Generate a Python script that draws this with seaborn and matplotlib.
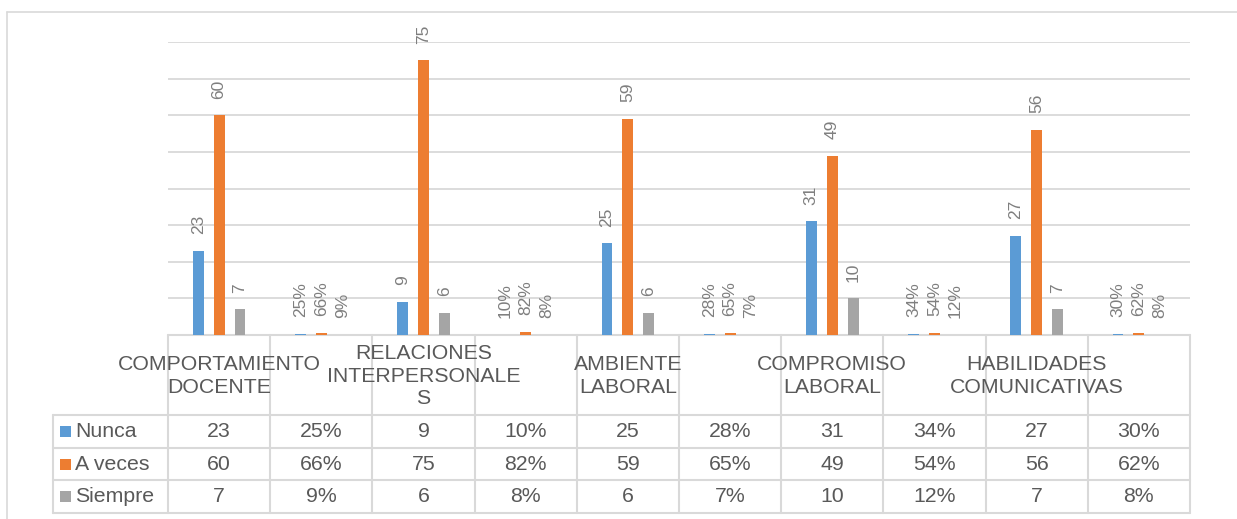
import numpy as np
import pandas as pd
import seaborn as sns
import matplotlib.pyplot as plt
from matplotlib.patches import Rectangle
from matplotlib.lines import Line2D

# --- data -------------------------------------------------------------
categories = [
    "COMPORTAMIENTO\nDOCENTE", "",
    "RELACIONES\nINTERPERSONALE\nS", "",
    "AMBIENTE\nLABORAL", "",
    "COMPROMISO\nLABORAL", "",
    "HABILIDADES\nCOMUNICATIVAS", "",
]
series = ["Nunca", "A veces", "Siempre"]
nunca = [23, 0.25, 9, 0.10, 25, 0.28, 31, 0.34, 27, 0.30]
a_veces = [60, 0.66, 75, 0.82, 59, 0.65, 49, 0.54, 56, 0.62]
siempre = [7, 0.09, 6, 0.08, 6, 0.07, 10, 0.12, 7, 0.08]
is_share = [False, True] * 5          # every second column holds shares
colors = ["#5B9BD5", "#ED7D31", "#A5A5A5"]

values = [nunca, a_veces, siempre]


def fmt(v, share):
    return f"{round(v * 100):d}%" if share else f"{v:g}"


# --- style ------------------------------------------------------------
sns.set_theme(style="white")
plt.rcParams["font.family"] = ["Liberation Sans", "DejaVu Sans"]
TEXT = "#595959"
LABEL = "#7F7F7F"
LINE = "#D9D9D9"

W, H = 1237, 519
fig = plt.figure(figsize=(W / 100, H / 100), dpi=100)
px_l, px_r, px_t, px_b = 168, 1190, 42, 335
ax = fig.add_axes([px_l / W, 1 - px_b / H, (px_r - px_l) / W, (px_b - px_t) / H])
aw, ah = px_r - px_l, px_b - px_t

df = pd.DataFrame({
    "col": np.tile(np.arange(len(categories)), len(series)),
    "serie": np.repeat(series, len(categories)),
    "valor": nunca + a_veces + siempre,
})

sns.barplot(data=df, x="col", y="valor", hue="serie", hue_order=series,
            palette=colors, saturation=1, width=0.615, gap=0.48,
            errorbar=None, linewidth=0, legend=False, ax=ax, zorder=3)

# value labels above each bar
for cont, vals in zip(ax.containers, values):
    labels = [fmt(v, s) for v, s in zip(vals, is_share)]
    ax.bar_label(cont, labels=labels, rotation=90, padding=12,
                 color=LABEL, fontsize=12.5)

ax.set_xlim(-0.5, len(categories) - 0.5)
ax.set_ylim(0, 80)
ax.set_yticks(np.arange(10, 81, 10))
ax.yaxis.grid(True, color=LINE, linewidth=1.3)
ax.set_axisbelow(True)
ax.tick_params(left=False, bottom=False, labelleft=False, labelbottom=False)
ax.set_xlabel("")
ax.set_ylabel("")
for sp in ax.spines.values():
    sp.set_visible(False)


# --- data table under the axis ---------------------------------------
def ax_x(px):
    return (px - px_l) / aw


def ax_y(py):
    return (px_b - py) / ah


def hline(py, x0, x1):
    ax.add_line(Line2D([ax_x(x0), ax_x(x1)], [ax_y(py), ax_y(py)],
                       transform=ax.transAxes, color=LINE, linewidth=1.5,
                       clip_on=False, zorder=1))


def vline(px, y0, y1):
    ax.add_line(Line2D([ax_x(px), ax_x(px)], [ax_y(y0), ax_y(y1)],
                       transform=ax.transAxes, color=LINE, linewidth=1.5,
                       clip_on=False, zorder=1))


tbl_l = 53
col_w = aw / len(categories)
head_h, row_h = 80, 32.7
row_tops = [px_b + head_h + row_h * i for i in range(len(series) + 1)]

hline(px_b, px_l, px_r)
for y in row_tops:
    hline(y, tbl_l, px_r)
vline(tbl_l, row_tops[0], row_tops[-1])
for k in range(len(categories) + 1):
    vline(px_l + k * col_w, px_b, row_tops[-1])

tkw = dict(transform=ax.transAxes, color=TEXT, fontsize=15.3, clip_on=False)
for j, cat in enumerate(categories):
    ax.text(ax_x(px_l + (j + 0.5) * col_w), ax_y(px_b + head_h / 2 + 1), cat,
            ha="center", va="center", multialignment="center",
            linespacing=1.22, **tkw)

for i, (name, vals, color) in enumerate(zip(series, values, colors)):
    yc = row_tops[i] + row_h / 2
    ax.add_patch(Rectangle((ax_x(60), ax_y(yc + 5.5)), 11 / aw, 11 / ah,
                           transform=ax.transAxes, facecolor=color,
                           edgecolor="none", clip_on=False))
    ax.text(ax_x(75), ax_y(yc), name, ha="left", va="center", **tkw)
    for j, (v, s) in enumerate(zip(vals, is_share)):
        ax.text(ax_x(px_l + (j + 0.5) * col_w), ax_y(yc), fmt(v, s),
                ha="center", va="center", **tkw)

# chart frame
fig.add_artist(Line2D([7 / W, 7 / W], [0, 1 - 12 / H], transform=fig.transFigure,
                      color=LINE, linewidth=1.2))
fig.add_artist(Line2D([7 / W, 1], [1 - 12 / H, 1 - 12 / H], transform=fig.transFigure,
                      color=LINE, linewidth=1.2))

fig.savefig("out.png", dpi=100, facecolor="white")
